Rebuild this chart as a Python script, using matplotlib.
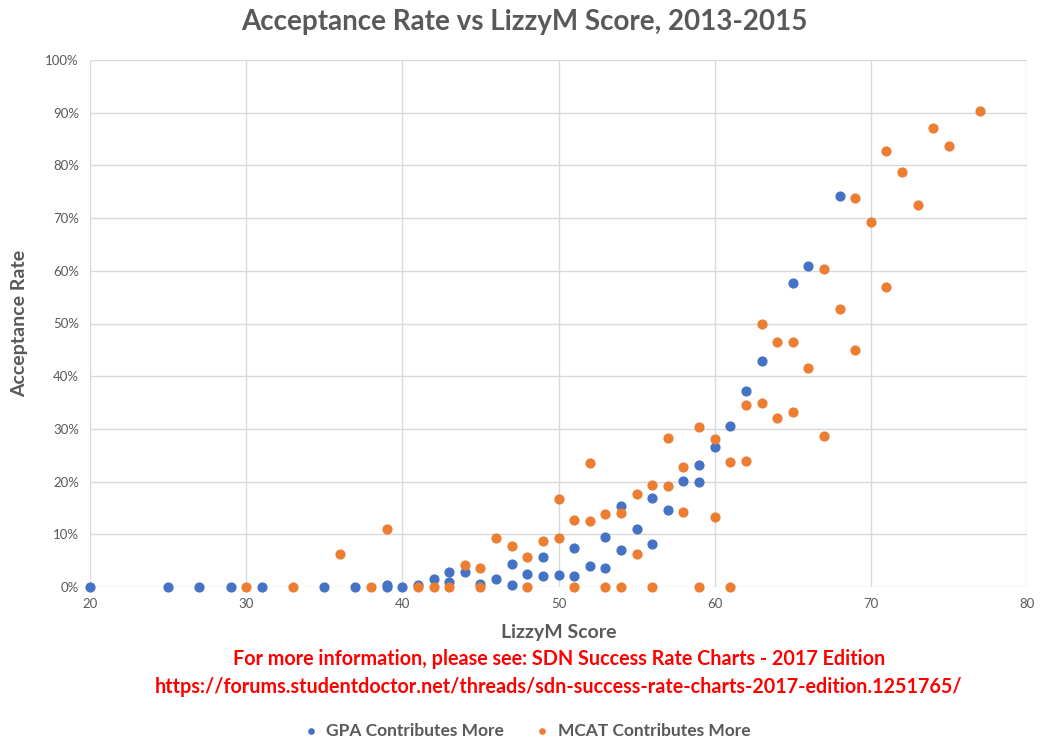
import matplotlib.pyplot as plt
from matplotlib.ticker import PercentFormatter

plt.rcParams['font.family'] = ['Lato', 'DejaVu Sans']

# GPA contributes more
gpa_x = [20, 25, 27, 29, 31, 35, 37, 39, 39, 40, 41, 42, 43, 43, 44, 45, 46, 47, 47, 48,
         49, 49, 50, 51, 51, 52, 53, 53, 54, 54, 55, 56, 56, 57, 58, 59, 59, 60, 61, 62,
         63, 65, 66, 68]
gpa_y = [0, 0, 0, 0, 0, 0, 0, 0, 0.4, 0, 0.4, 1.5, 2.9, 1.0, 2.9, 0.5, 1.5, 4.3, 0.4, 2.5,
         5.7, 2.0, 2.3, 7.4, 2.0, 4.0, 9.5, 3.7, 15.4, 7.1, 11.1, 16.8, 8.2, 14.7, 20.2, 23.2, 19.9, 26.6, 30.6, 37.1,
         42.8, 57.6, 61.0, 74.1]

# MCAT contributes more
mcat_x = [30, 33, 36, 38, 39, 41, 42, 43, 44, 45, 45, 46, 47, 48, 48, 49, 50, 50, 51, 51,
          52, 52, 53, 53, 54, 54, 55, 55, 56, 56, 57, 57, 58, 58, 59, 59, 60, 60, 61, 61,
          62, 62, 63, 63, 64, 64, 65, 65, 66, 67, 67, 68, 69, 69, 70, 71, 71, 72, 73, 74,
          75, 77]
mcat_y = [0, 0, 6.3, 0, 11.0, 0, 0, 0, 4.2, 0, 3.7, 9.3, 7.8, 5.7, 0, 8.8, 16.7, 9.3, 12.8, 0,
          23.6, 12.6, 13.9, 0, 14.1, 0, 17.7, 6.3, 19.4, 0, 28.3, 19.2, 22.8, 14.3, 30.4, 0, 28.0, 13.3, 23.7, 0,
          34.6, 24.0, 50.0, 35.0, 46.5, 32.0, 46.5, 33.3, 41.6, 60.4, 28.7, 52.8, 73.9, 45.0, 69.2, 82.7, 57.0, 78.7, 72.4, 87.1,
          83.6, 90.4]

gray = '#595959'
fig = plt.figure(figsize=(10.48, 7.54), dpi=100)
ax = fig.add_axes([90 / 1048, 1 - 587 / 754, 937 / 1048, 527 / 754])

ax.scatter(gpa_x, gpa_y, s=40, color='#4472C4', zorder=3, label='GPA Contributes More', clip_on=False)
ax.scatter(mcat_x, mcat_y, s=40, color='#ED7D31', zorder=3, label='MCAT Contributes More', clip_on=False)

ax.set_xlim(20, 80)
ax.set_ylim(0, 100)
ax.set_xticks(range(20, 81, 10))
ax.set_yticks(range(0, 101, 10))
ax.yaxis.set_major_formatter(PercentFormatter(decimals=0))
ax.grid(True, color='#d9d9d9', linewidth=1)
ax.set_axisbelow(True)
for s in ax.spines.values():
    s.set_visible(False)
ax.tick_params(length=0, labelsize=9.5, colors=gray, pad=8)

ax.set_xlabel('LizzyM Score', fontsize=14, fontweight='bold', color=gray, labelpad=10)
ax.set_ylabel('Acceptance Rate', fontsize=14, fontweight='bold', color=gray, labelpad=12)

fig.text(0.5, 1 - 22 / 754, 'Acceptance Rate vs LizzyM Score, 2013-2015', ha='center', va='center',
         fontsize=20, fontweight='bold', color=gray)
fig.text(559 / 1048, 1 - 659 / 754, 'For more information, please see: SDN Success Rate Charts - 2017 Edition',
         ha='center', va='center', fontsize=14.2, fontweight='bold', color='#FF0000')
fig.text(559 / 1048, 1 - 687 / 754, 'https://forums.studentdoctor.net/threads/sdn-success-rate-charts-2017-edition.1251765/',
         ha='center', va='center', fontsize=14.2, fontweight='bold', color='#FF0000')

fig.legend(loc='center', bbox_to_anchor=(527 / 1048, 1 - 731 / 754), ncol=2, frameon=False,
           markerscale=0.6, handlelength=0.8, handletextpad=0.5, columnspacing=1.8,
           labelcolor=gray, prop={'weight': 'bold', 'size': 12.5})

fig.savefig('out.png', dpi=100)
